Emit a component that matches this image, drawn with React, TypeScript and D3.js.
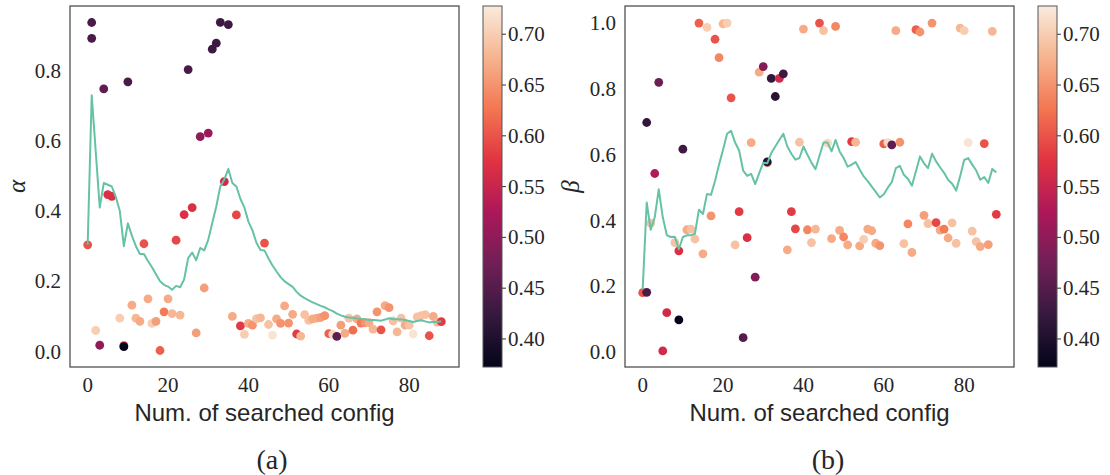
import React from 'react';
import * as d3 from 'd3';

// ---------- data ----------
const configTicks = [0, 20, 40, 60, 80];
const alphaTicks = [0.0, 0.2, 0.4, 0.6, 0.8];
const betaTicks = [0.0, 0.2, 0.4, 0.6, 0.8, 1.0];
const scoreTicks = [0.40, 0.45, 0.50, 0.55, 0.60, 0.65, 0.70];
const scoreDomain = [0.3724, 0.7278];

// panel (a): searched alpha values
const alphaX = [0, 1, 1, 2, 3, 4, 5, 6, 8, 9, 9, 10, 11, 12, 13, 14, 15, 16, 17, 18, 19, 20, 21, 22, 23, 24, 25, 26, 27, 28, 29, 30, 31, 32, 33, 34, 35, 36, 37, 38, 39, 40, 41, 42, 43, 44, 45, 46, 47, 48, 49, 50, 51, 52, 53, 54, 55, 56, 57, 58, 59, 60, 61, 62, 63, 64, 65, 66, 67, 68, 69, 70, 71, 72, 73, 74, 75, 76, 77, 78, 79, 80, 81, 82, 83, 84, 85, 86, 87, 88];
const alphaVal = [0.304, 0.937, 0.892, 0.06, 0.018, 0.748, 0.447, 0.442, 0.095, 0.017, 0.014, 0.768, 0.132, 0.095, 0.086, 0.307, 0.15, 0.08, 0.086, 0.003, 0.113, 0.15, 0.108, 0.317, 0.104, 0.39, 0.803, 0.41, 0.053, 0.612, 0.181, 0.622, 0.861, 0.878, 0.9375, 0.484, 0.931, 0.10, 0.389, 0.073, 0.049, 0.08, 0.075, 0.094, 0.096, 0.309, 0.077, 0.047, 0.093, 0.08, 0.13, 0.081, 0.106, 0.05, 0.044, 0.105, 0.089, 0.093, 0.095, 0.097, 0.102, 0.051, 0.049, 0.043, 0.075, 0.052, 0.095, 0.061, 0.093, 0.081, 0.082, 0.082, 0.064, 0.113, 0.062, 0.131, 0.125, 0.087, 0.056, 0.095, 0.075, 0.075, 0.05, 0.099, 0.102, 0.105, 0.045, 0.10, 0.084, 0.085];
const alphaScore = [0.60, 0.44, 0.44, 0.70, 0.50, 0.46, 0.57, 0.57, 0.70, 0.58, 0.37, 0.44, 0.67, 0.68, 0.67, 0.60, 0.67, 0.70, 0.66, 0.61, 0.63, 0.67, 0.68, 0.59, 0.68, 0.57, 0.44, 0.57, 0.66, 0.50, 0.66, 0.51, 0.43, 0.43, 0.43, 0.56, 0.43, 0.67, 0.59, 0.58, 0.70, 0.67, 0.65, 0.69, 0.68, 0.60, 0.69, 0.72, 0.67, 0.65, 0.67, 0.65, 0.67, 0.58, 0.68, 0.69, 0.69, 0.67, 0.67, 0.66, 0.65, 0.61, 0.71, 0.46, 0.66, 0.67, 0.69, 0.62, 0.67, 0.63, 0.65, 0.67, 0.68, 0.65, 0.60, 0.67, 0.65, 0.69, 0.68, 0.69, 0.67, 0.69, 0.72, 0.69, 0.69, 0.69, 0.60, 0.67, 0.68, 0.58];
// running estimate of alpha, one value per searched config 0..88
const alphaLine = [0.304, 0.73, 0.57, 0.41, 0.48, 0.475, 0.47, 0.44, 0.40, 0.30, 0.365, 0.33, 0.30, 0.278, 0.278, 0.258, 0.24, 0.22, 0.20, 0.19, 0.185, 0.176, 0.187, 0.183, 0.205, 0.266, 0.282, 0.26, 0.295, 0.288, 0.318, 0.366, 0.413, 0.47, 0.49, 0.52, 0.48, 0.47, 0.435, 0.41, 0.37, 0.345, 0.31, 0.289, 0.288, 0.265, 0.245, 0.228, 0.212, 0.20, 0.192, 0.184, 0.17, 0.159, 0.152, 0.146, 0.14, 0.135, 0.13, 0.126, 0.12, 0.115, 0.108, 0.103, 0.099, 0.097, 0.096, 0.094, 0.093, 0.092, 0.09, 0.09, 0.089, 0.088, 0.091, 0.095, 0.092, 0.092, 0.091, 0.09, 0.087, 0.084, 0.087, 0.089, 0.086, 0.083, 0.085, 0.084, 0.086];

// panel (b): searched beta values
const betaX = [0, 1, 1, 2, 3, 4, 5, 6, 8, 9, 9, 10, 11, 12, 13, 14, 15, 16, 17, 18, 19, 20, 21, 22, 23, 24, 25, 26, 27, 28, 29, 30, 31, 31, 32, 33, 34, 35, 36, 37, 38, 39, 40, 41, 42, 43, 44, 45, 46, 47, 48, 49, 50, 51, 52, 53, 54, 55, 56, 57, 58, 59, 60, 61, 62, 63, 64, 65, 66, 67, 68, 69, 70, 71, 72, 73, 74, 75, 76, 77, 78, 79, 80, 81, 82, 83, 84, 85, 86, 87, 88];
const betaVal = [0.181, 0.182, 0.698, 0.392, 0.543, 0.82, 0.004, 0.12, 0.333, 0.308, 0.098, 0.617, 0.372, 0.374, 0.344, 1.0, 0.299, 0.987, 0.414, 0.951, 0.895, 0.998, 1.0, 0.773, 0.326, 0.427, 0.044, 0.348, 0.637, 0.228, 0.851, 0.868, 0.575, 0.578, 0.832, 0.777, 0.832, 0.846, 0.311, 0.427, 0.375, 0.638, 0.982, 0.372, 0.333, 0.374, 1.0, 0.977, 0.635, 0.345, 0.99, 0.37, 0.35, 0.326, 0.64, 0.638, 0.323, 0.343, 0.374, 0.369, 0.331, 0.324, 0.633, 0.637, 0.63, 0.977, 0.638, 0.33, 0.39, 0.303, 0.98, 0.973, 0.416, 0.391, 1.0, 0.394, 0.371, 0.374, 0.347, 0.393, 0.331, 0.985, 0.977, 0.637, 0.368, 0.336, 0.321, 0.634, 0.327, 0.975, 0.419];
const betaScore = [0.60, 0.44, 0.42, 0.69, 0.53, 0.47, 0.56, 0.56, 0.69, 0.57, 0.37, 0.43, 0.67, 0.69, 0.69, 0.61, 0.67, 0.70, 0.65, 0.60, 0.64, 0.68, 0.70, 0.60, 0.69, 0.58, 0.45, 0.57, 0.67, 0.49, 0.67, 0.49, 0.68, 0.41, 0.42, 0.41, 0.56, 0.43, 0.67, 0.58, 0.59, 0.69, 0.67, 0.64, 0.69, 0.68, 0.60, 0.69, 0.71, 0.67, 0.64, 0.67, 0.64, 0.67, 0.58, 0.68, 0.67, 0.70, 0.67, 0.67, 0.67, 0.65, 0.61, 0.71, 0.46, 0.67, 0.65, 0.69, 0.64, 0.67, 0.61, 0.65, 0.66, 0.69, 0.65, 0.59, 0.67, 0.63, 0.67, 0.69, 0.69, 0.68, 0.70, 0.72, 0.69, 0.69, 0.67, 0.60, 0.66, 0.68, 0.58];
const betaLine = [0.19, 0.455, 0.372, 0.41, 0.495, 0.41, 0.356, 0.35, 0.351, 0.313, 0.35, 0.355, 0.355, 0.36, 0.433, 0.42, 0.481, 0.478, 0.52, 0.57, 0.615, 0.664, 0.673, 0.637, 0.613, 0.552, 0.536, 0.542, 0.511, 0.544, 0.576, 0.574, 0.605, 0.625, 0.645, 0.664, 0.625, 0.603, 0.585, 0.59, 0.625, 0.60, 0.576, 0.556, 0.597, 0.637, 0.637, 0.61, 0.645, 0.61, 0.59, 0.564, 0.57, 0.578, 0.555, 0.534, 0.52, 0.503, 0.487, 0.470, 0.48, 0.50, 0.517, 0.559, 0.566, 0.539, 0.527, 0.506, 0.55, 0.595, 0.574, 0.559, 0.603, 0.58, 0.562, 0.545, 0.524, 0.512, 0.491, 0.535, 0.584, 0.59, 0.57, 0.552, 0.524, 0.532, 0.514, 0.557, 0.546];

// ---------- colormap (seaborn "rocket") ----------
const rocketStops = [0, 1 / 7, 2 / 7, 3 / 7, 4 / 7, 5 / 7, 6 / 7, 1];
const rocketColors = ['#03051a', '#35193e', '#701f57', '#ad1759', '#e13342', '#f37651', '#f6b48f', '#faebdd'];
const rocket = d3.scaleLinear<string>().domain(rocketStops).range(rocketColors).interpolate(d3.interpolateRgb).clamp(true);
const scoreToT = d3.scaleLinear().domain(scoreDomain).range([0, 1]);
const colorOf = (s: number) => rocket(scoreToT(s));

const LINE_COLOR = '#66c2a5';
const TEXT = '#262626';
const SERIF = '"Liberation Serif", "DejaVu Serif", serif';
const SANS = '"Liberation Sans", Arial, sans-serif';

type PanelProps = {
  id: string;
  left: number; right: number; top: number; bottom: number;
  cbLeft: number; cbRight: number;
  yDomain: [number, number];
  yTicks: number[];
  xs: number[]; vals: number[]; scores: number[]; line: number[];
  yLabel: string; yLabelX: number;
  caption: string; captionX: number;
};

function Panel(p: PanelProps) {
  const x = d3.scaleLinear().domain([-4.4, 92.4]).range([p.left, p.right]);
  const y = d3.scaleLinear().domain(p.yDomain).range([p.bottom, p.top]);
  const cb = d3.scaleLinear().domain(scoreDomain).range([p.bottom, p.top]);
  const lineGen = d3.line<number>().x((_, i) => x(i)).y((d) => y(d));
  const cx = (p.left + p.right) / 2;
  const midY = (p.top + p.bottom) / 2;
  return (
    <g>
      <defs>
        <linearGradient id={`grad-${p.id}`} x1="0" y1="1" x2="0" y2="0">
          {rocketStops.map((s, i) => (
            <stop key={i} offset={s} stopColor={rocketColors[i]} />
          ))}
        </linearGradient>
        <clipPath id={`clip-${p.id}`}>
          <rect x={p.left} y={p.top} width={p.right - p.left} height={p.bottom - p.top} />
        </clipPath>
      </defs>
      <rect x={p.left} y={p.top} width={p.right - p.left} height={p.bottom - p.top} fill="white" />
      <g clipPath={`url(#clip-${p.id})`}>
        {p.xs.map((xv, i) => (
          <circle key={i} cx={x(xv)} cy={y(p.vals[i])} r={4.4} fill={colorOf(p.scores[i])} />
        ))}
        <path d={lineGen(p.line) || ''} fill="none" stroke={LINE_COLOR} strokeWidth={2} strokeLinejoin="round" />
      </g>
      <rect x={p.left} y={p.top} width={p.right - p.left} height={p.bottom - p.top} fill="none" stroke="#4a4a4a" strokeWidth={1.25} />
      {/* y ticks */}
      {p.yTicks.map((t) => (
        <text key={t} x={p.left - 9} y={y(t) + 7} textAnchor="end" fontFamily={SERIF} fontSize={21} fill={TEXT}>
          {t.toFixed(1)}
        </text>
      ))}
      {/* x ticks */}
      {configTicks.map((t) => (
        <text key={t} x={x(t)} y={p.bottom + 25} textAnchor="middle" fontFamily={SERIF} fontSize={21} fill={TEXT}>
          {t}
        </text>
      ))}
      <text x={cx} y={p.bottom + 54} textAnchor="middle" fontFamily={SANS} fontSize={24} fill={TEXT}>
        Num. of searched config
      </text>
      <text transform={`translate(${p.yLabelX},${midY}) rotate(-90)`} textAnchor="middle" fontFamily={SERIF} fontStyle="italic" fontSize={25} fill={TEXT}>
        {p.yLabel}
      </text>
      <text x={p.captionX} y={p.bottom + 102} textAnchor="middle" fontFamily={SERIF} fontSize={28} fill={TEXT}>
        {p.caption}
      </text>
      {/* colorbar */}
      <rect x={p.cbLeft} y={p.top} width={p.cbRight - p.cbLeft} height={p.bottom - p.top} fill={`url(#grad-${p.id})`} stroke="#555" strokeWidth={1} />
      {scoreTicks.map((t) => (
        <g key={t}>
          <line x1={p.cbRight} x2={p.cbRight + 4} y1={cb(t)} y2={cb(t)} stroke="#333" strokeWidth={1} />
          <text x={p.cbRight + 6} y={cb(t) + 7} fontFamily={SERIF} fontSize={21} fill={TEXT}>
            {t.toFixed(2)}
          </text>
        </g>
      ))}
    </g>
  );
}

export default function App() {
  return (
    <svg width={1110} height={475} style={{ position: 'absolute', left: 0, top: 0, background: 'white' }}>
      <rect x={0} y={0} width={1110} height={475} fill="white" />
      <Panel id="a" left={70} right={459} top={6} bottom={367} cbLeft={483} cbRight={502}
        yDomain={[-0.044, 0.984]} yTicks={alphaTicks}
        xs={alphaX} vals={alphaVal} scores={alphaScore} line={alphaLine}
        yLabel="α" yLabelX={25} caption="(a)" captionX={272} />
      <Panel id="b" left={625} right={1014} top={6} bottom={367} cbLeft={1038} cbRight={1057}
        yDomain={[-0.045, 1.052]} yTicks={betaTicks}
        xs={betaX} vals={betaVal} scores={betaScore} line={betaLine}
        yLabel="β" yLabelX={579} caption="(b)" captionX={828} />
    </svg>
  );
}
